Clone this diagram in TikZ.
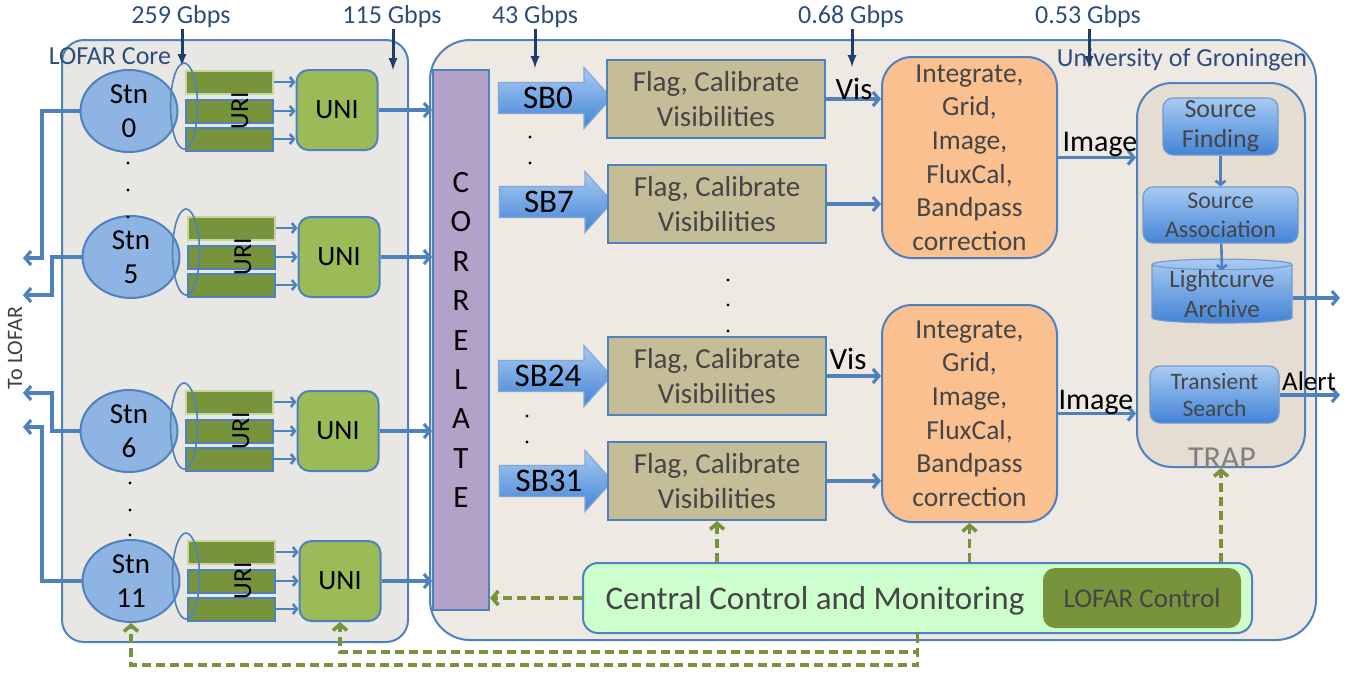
\documentclass[tikz,border=0pt]{standalone}
\usepackage{fontspec}
\setmainfont{Carlito}
\usepackage{tikz}
\usetikzlibrary{positioning,arrows.meta}
\usetikzlibrary{shapes.geometric,shapes.arrows}

\definecolor{lineblue}{HTML}{4F81BD}
\definecolor{stnblue}{HTML}{8DB4E2}
\definecolor{uridark}{HTML}{77933C}
\definecolor{urilight}{HTML}{C3D69B}
\definecolor{unigreen}{HTML}{9BBB59}
\definecolor{corpurple}{HTML}{B3A2C7}
\definecolor{flagtan}{HTML}{C4BD97}
\definecolor{intorange}{HTML}{FAC090}
\definecolor{coregray}{HTML}{E9E7E3}
\definecolor{rugbeige}{HTML}{EFE9E3}
\definecolor{trapbeige}{HTML}{E5DCD2}
\definecolor{ccmgreen}{HTML}{CCFFCC}
\definecolor{navy}{HTML}{1F3D6B}
\definecolor{labelblue}{HTML}{2E4D7B}
\definecolor{textgray}{HTML}{454545}
\definecolor{sbtop}{HTML}{A8CBF2}
\definecolor{sbbot}{HTML}{4383D6}

\newcommand{\fsz}[2]{\fontsize{#1}{#2}\selectfont}

\begin{document}
\begin{tikzpicture}[x=1pt, y=-1pt,
	corebox/.style={draw=lineblue, line width=2pt, fill=coregray, rounded corners=22pt, minimum width=346pt, minimum height=602pt},
	rugbox/.style={draw=lineblue, line width=2pt, fill=rugbeige, rounded corners=40pt, minimum width=886pt, minimum height=600pt},
	boxlbl/.style={text=labelblue, font=\fsz{26}{30}, inner sep=0pt},
	rate/.style={text=labelblue, font=\fsz{26}{30}, inner sep=1pt},
	ratearrow/.style={draw=navy, line width=3pt, -latex},
	stn/.style={ellipse, draw=lineblue, line width=2pt, fill=stnblue, minimum width=97pt, minimum height=82pt, inner sep=0pt, align=center, font=\fsz{29}{34}},
	uribar/.style={fill=uridark, draw=lineblue, line width=2pt, minimum width=87pt, minimum height=23pt, inner sep=0pt},
	uritop/.style={uribar, draw=urilight},
	lens/.style={ellipse, draw=lineblue, line width=1.6pt, minimum width=27pt, minimum height=86pt, inner sep=0pt},
	uritxt/.style={rotate=90, font=\fsz{26}{30}, inner sep=0pt},
	uni/.style={draw=lineblue, line width=2pt, fill=unigreen, rounded corners=12pt, minimum width=81pt, minimum height=80pt, font=\fsz{28}{32}},
	feed/.style={draw=lineblue, line width=2.6pt, -{Straight Barb[length=4pt,width=10pt]}},
	link/.style={draw=lineblue, line width=3.2pt, -{Straight Barb[length=6pt,width=14pt]}},
	cor/.style={draw=lineblue, line width=2pt, fill=corpurple, minimum width=56pt, minimum height=540pt, align=center, font=\fsz{31}{39.4}},
	sb/.style={single arrow, single arrow head extend=15pt, single arrow tip angle=96, minimum height=113pt, minimum width=60pt, inner xsep=0pt, inner ysep=4pt, draw=lineblue!70, line width=1.2pt, top color=sbtop, bottom color=sbbot, font=\fsz{33}{36}},
	flag/.style={draw=lineblue, line width=2pt, fill=flagtan, minimum width=218pt, minimum height=78pt, align=center, text=textgray, font=\fsz{29}{35}},
	integ/.style={draw=lineblue, line width=2pt, fill=intorange, rounded corners=30pt, minimum width=175pt, align=center, text=textgray, font=\fsz{27.5}{33.6}},
	flowlbl/.style={font=\fsz{31}{36}, inner sep=0pt},
	trap/.style={draw=lineblue, line width=2pt, fill=trapbeige, rounded corners=35pt, minimum width=168pt, minimum height=384pt},
	traplbl/.style={text=gray, font=\fsz{32}{36}, inner sep=0pt},
	src/.style={draw=lineblue!80, line width=1.2pt, top color=sbtop, bottom color=sbbot, rounded corners=10pt, align=center, text=textgray, inner sep=0pt},
	archive/.style={cylinder, shape border rotate=90, aspect=0.1, draw=lineblue!80, line width=1.2pt, top color=sbtop, bottom color=sbbot, align=center, text=textgray, minimum width=140pt, minimum height=62pt, inner sep=0pt, font=\fsz{25}{30}},
	ccm/.style={draw=lineblue, line width=2pt, fill=ccmgreen, rounded corners=15pt, minimum width=669pt, minimum height=70pt},
	ctl/.style={fill=uridark, rounded corners=12pt, minimum width=198pt, minimum height=60pt, text=textgray, font=\fsz{27}{30}},
	ctrl/.style={draw=uridark, line width=3.6pt, dash pattern=on 9pt off 5pt, -{Straight Barb[length=6pt,width=14pt]}}]
	\useasboundingbox (0,0) rectangle (1348,673);

	% the two sites
	\node[corebox] (core) at (235,341) {};
	\node[rugbox] (rug) at (873,340) {};
	\node[boxlbl] (corelbl) at (110,56) {LOFAR Core};
	\node[boxlbl] (ruglbl) at (1182,60) {University of Groningen};

	% data rates along the chain
	\node[rate] (r259) at (181,17) {259 Gbps};
	\node[rate] (r115) at (392,17) {115 Gbps};
	\node[rate] (r43) at (535,17) {43 Gbps};
	\node[rate] (r068) at (851,17) {0.68 Gbps};
	\node[rate] (r053) at (1088,17) {0.53 Gbps};
	\coordinate (e259) at (182,66);
	\coordinate (e115) at (393,70);
	\coordinate (e43) at (535,68);
	\coordinate (e068) at (852,67);
	\coordinate (e053) at (1089,68);
	\draw[ratearrow] (r259.south -| e259) -- (e259);
	\draw[ratearrow] (r115.south -| e115) -- (e115);
	\draw[ratearrow] (r43.south -| e43) -- (e43);
	\draw[ratearrow] (r068.south -| e068) -- (e068);
	\draw[ratearrow] (r053.south -| e053) -- (e053);

	\node[cor] (cor) at (461,340) {C\\O\\R\\R\\E\\L\\A\\T\\E};

	% station 0
	\node[stn] (stn0) at (129,111) {Stn\\0};
	\node[uritop] (bar0a) at (229,82) {};
	\node[uribar] (bar0b) at (229,111) {};
	\node[uribar] (bar0c) at (229,139) {};
	\node[lens] (lens0) at (184,106) {};
	\node[uritxt] (uri0) at (240,111) {URI};
	\node[uni] (uni0) at (337,110) {UNI};
	\draw[feed] (bar0a) -- (bar0a -| uni0.west);
	\draw[feed] (bar0b) -- (bar0b -| uni0.west);
	\draw[feed] (bar0c) -- (bar0c -| uni0.west);
	\draw[link] (uni0) -- (uni0 -| cor.west);
	% station 5
	\node[stn] (stn5) at (131,257) {Stn\\5};
	\node[uritop] (bar5a) at (231,228) {};
	\node[uribar] (bar5b) at (231,257) {};
	\node[uribar] (bar5c) at (231,285) {};
	\node[lens] (lens5) at (186,252) {};
	\node[uritxt] (uri5) at (243,257) {URI};
	\node[uni] (uni5) at (339,257) {UNI};
	\draw[feed] (bar5a) -- (bar5a -| uni5.west);
	\draw[feed] (bar5b) -- (bar5b -| uni5.west);
	\draw[feed] (bar5c) -- (bar5c -| uni5.west);
	\draw[link] (uni5) -- (uni5 -| cor.west);
	% station 6
	\node[stn] (stn6) at (129,431) {Stn\\6};
	\node[uritop] (bar6a) at (229,402) {};
	\node[uribar] (bar6b) at (229,431) {};
	\node[uribar] (bar6c) at (229,459) {};
	\node[lens] (lens6) at (184,426) {};
	\node[uritxt] (uri6) at (241,431) {URI};
	\node[uni] (uni6) at (338,431) {UNI};
	\draw[feed] (bar6a) -- (bar6a -| uni6.west);
	\draw[feed] (bar6b) -- (bar6b -| uni6.west);
	\draw[feed] (bar6c) -- (bar6c -| uni6.west);
	\draw[link] (uni6) -- (uni6 -| cor.west);
	% station 11
	\node[stn] (stn11) at (131,581) {Stn\\11};
	\node[uritop] (bar11a) at (231,552) {};
	\node[uribar] (bar11b) at (231,581) {};
	\node[uribar] (bar11c) at (231,609) {};
	\node[lens] (lens11) at (186,576) {};
	\node[uritxt] (uri11) at (243,581) {URI};
	\node[uni] (uni11) at (340,581) {UNI};
	\draw[feed] (bar11a) -- (bar11a -| uni11.west);
	\draw[feed] (bar11b) -- (bar11b -| uni11.west);
	\draw[feed] (bar11c) -- (bar11c -| uni11.west);
	\draw[link] (uni11) -- (uni11 -| cor.west);

	\fill (128,163) circle (1.7pt);
	\fill (128,190) circle (1.7pt);
	\fill (128,217) circle (1.7pt);
	\fill (130,483) circle (1.7pt);
	\fill (130,510) circle (1.7pt);
	\fill (130,535) circle (1.7pt);

	% back out to LOFAR
	\coordinate (out0) at (23,258);
	\coordinate (out5) at (23,295);
	\coordinate (out6) at (23,393);
	\coordinate (out11) at (23,427);
	\draw[link] (stn0.west) -| (42,258) -- (out0);
	\draw[link] (stn5.west) -| (52,295) -- (out5);
	\draw[link] (stn6.west) -| (52,393) -- (out6);
	\draw[link] (stn11.west) -| (42,427) -- (out11);
	\node[rotate=90, text=darkgray, font=\fsz{22}{26}] (tolofar) at (15,348) {To LOFAR};

	% subbands
	\node[sb] (sb0) at (548,98) {SB0};
	\node[sb] (sb7) at (549,202) {SB7};
	\node[sb] (sb24) at (548,376) {SB24};
	\node[sb] (sb31) at (549,481) {SB31};
	\fill (530,137) circle (1.7pt);
	\fill (530,163) circle (1.7pt);
	\fill (527,416) circle (1.7pt);
	\fill (527,442) circle (1.7pt);

	\node[flag] (f0) at (716,99) {Flag, Calibrate\\Visibilities};
	\node[flag] (f7) at (717,204) {Flag, Calibrate\\Visibilities};
	\node[flag] (f24) at (717,376) {Flag, Calibrate\\Visibilities};
	\node[flag] (f31) at (717,481) {Flag, Calibrate\\Visibilities};
	\fill (728,280) circle (1.7pt);
	\fill (728,305) circle (1.7pt);
	\fill (728,331) circle (1.7pt);

	\node[integ, minimum height=201pt] (int1) at (969.5,157.5) {Integrate,\\Grid,\\Image,\\FluxCal,\\Bandpass\\correction};
	\node[integ, minimum height=217pt] (int2) at (969.5,413.5) {Integrate,\\Grid,\\Image,\\FluxCal,\\Bandpass\\correction};
	\draw[link] (f0) -- (f0 -| int1.west);
	\draw[link] (f7) -- (f7 -| int1.west);
	\draw[link] (f24) -- (f24 -| int2.west);
	\draw[link] (f31) -- (f31 -| int2.west);
	\node[flowlbl] (vis1) at (854,89) {Vis};
	\node[flowlbl] (vis2) at (848,359) {Vis};

	% transient pipeline
	\node[trap] (trap) at (1221,275) {};
	\node[traplbl] (traplbl) at (1222,458) {TRAP};
	\node[src, minimum width=115pt, minimum height=57pt, font=\fsz{26}{30}] (sfind) at (1220.5,126.5) {Source\\Finding};
	\node[src, minimum width=155pt, minimum height=56pt, font=\fsz{24}{29}] (sassoc) at (1220.5,215) {Source\\Association};
	\node[archive] (arch) at (1222,294) {Lightcurve\\Archive};
	\node[src, minimum width=129pt, minimum height=57pt, font=\fsz{23.5}{27}] (tsearch) at (1214.5,394.5) {Transient\\Search};
	\draw[feed] (sfind) -- (sassoc);
	\draw[feed] (sassoc) -- ([yshift=-12pt]arch.north);
	\draw[link] (int1) -- (int1 -| trap.west);
	\draw[link] (int2) -- (int2 -| trap.west);
	\node[flowlbl, font=\fsz{30}{34}] (img1) at (1100,144) {Image};
	\node[flowlbl, font=\fsz{30}{34}] (img2) at (1096,402) {Image};
	\coordinate (archout) at (1340,298);
	\coordinate (alertout) at (1340,395);
	\draw[link] (arch.east |- archout) -- (archout);
	\draw[link] (tsearch.east |- alertout) -- (alertout);
	\node[flowlbl, font=\fsz{27}{30}] (alert) at (1309,381) {Alert};

	% control
	\node[ccm] (ccm) at (917.5,598) {};
	\node[text=textgray, font=\fsz{33}{36}] (ccmtxt) at (815,601) {Central Control and Monitoring};
	\node[ctl] (lctl) at (1142,598) {LOFAR Control};
	\draw[ctrl] (ccm.west) -- (ccm.west -| cor.east);
	\draw[ctrl] (f31.south |- ccm.north) -- (f31.south);
	\draw[ctrl] (int2.south |- ccm.north) -- (int2.south);
	\draw[ctrl] (trap.south |- ccm.north) -- (trap.south);
	\draw[ctrl] (ccm.south) -- (ccm.south |- 0,652) -| (uni11.south);
	\draw[ctrl] (ccm.south) -- (ccm.south |- 0,665) -| (stn11.south);
\end{tikzpicture}
\end{document}
